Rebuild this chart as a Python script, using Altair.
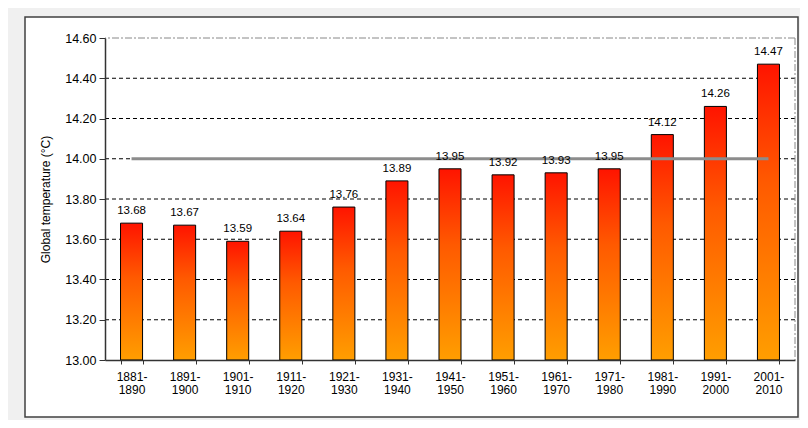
import altair as alt
import pandas as pd

periods = ["1881-1890", "1891-1900", "1901-1910", "1911-1920", "1921-1930",
           "1931-1940", "1941-1950", "1951-1960", "1961-1970", "1971-1980",
           "1981-1990", "1991-2000", "2001-2010"]
temps = [13.68, 13.67, 13.59, 13.64, 13.76, 13.89, 13.95, 13.92, 13.93, 13.95,
         14.12, 14.26, 14.47]
baseline = 14.00
y_ticks = [13.00, 13.20, 13.40, 13.60, 13.80, 14.00, 14.20, 14.40, 14.60]
grid_vals = [13.20, 13.40, 13.60, 13.80, 14.00, 14.20, 14.40]

W, H = 690, 322
FONT = "Liberation Sans"

df = pd.DataFrame({"period": periods, "temp": temps, "base": [baseline] * len(periods)})

xscale = alt.Scale(domain=periods, paddingInner=0.585, paddingOuter=0.2925)
yscale = alt.Scale(domain=[13.0, 14.6], zero=False, nice=False)

box = alt.Chart(alt.Data(values=[{"a": 1}])).mark_rect(
    fill="white", stroke="#404040", strokeWidth=1.5
).encode(
    x=alt.value(-80), x2=alt.value(W + 3), y=alt.value(-21), y2=alt.value(H + 57)
)

grid = alt.Chart(pd.DataFrame({"g": grid_vals})).mark_rule(
    color="black", strokeDash=[4, 3], strokeWidth=1
).encode(y=alt.Y("g:Q", scale=yscale))

top = alt.Chart(pd.DataFrame({"g": [14.6]})).mark_rule(
    color="#888888", strokeDash=[7, 2, 2, 2], strokeWidth=1
).encode(y=alt.Y("g:Q", scale=yscale))

right = alt.Chart(alt.Data(values=[{"a": 1}])).mark_rule(
    color="#888888", strokeDash=[7, 2, 2, 2], strokeWidth=1
).encode(x=alt.value(W), y=alt.value(0), y2=alt.value(H))

xaxis = alt.Axis(
    title=None, labelAngle=0, tickBand="extent", tickSize=4, tickColor="#333333",
    domainColor="#333333", domainWidth=1.5, labelFontSize=12, labelColor="black",
    labelFont=FONT, labelPadding=7, labelLineHeight=13, zindex=1,
    labelExpr="[slice(datum.label,0,5), slice(datum.label,5)]", grid=False
)
yaxis = alt.Axis(
    title="Global temperature (°C)", values=y_ticks, format=".2f", tickSize=6,
    tickColor="#333333", domainColor="#333333", domainWidth=1.5, labelFontSize=12.5,
    labelColor="black", labelFont=FONT, labelPadding=3, titleFont=FONT,
    titleFontSize=12, titleFontWeight="normal", titleColor="black",
    titlePadding=12, zindex=1, grid=False
)

bars = alt.Chart(df).mark_bar(
    fill=alt.Gradient(
        gradient="linear",
        stops=[alt.GradientStop(color="#ff1400", offset=0),
               alt.GradientStop(color="#ff5a00", offset=0.4),
               alt.GradientStop(color="#ff9e00", offset=1)],
        x1=0, x2=0, y1=0, y2=1,
    ),
    stroke="black", strokeWidth=1
).encode(
    x=alt.X("period:N", scale=xscale, axis=xaxis, sort=periods),
    y=alt.Y("temp:Q", scale=yscale, axis=yaxis),
    y2=alt.datum(13.0),
)

labels = alt.Chart(df).mark_text(
    dy=-9, baseline="alphabetic", fontSize=11.5, font=FONT, color="black"
).encode(
    x=alt.X("period:N", scale=xscale, sort=periods),
    y=alt.Y("temp:Q", scale=yscale),
    text=alt.Text("temp:Q", format=".2f"),
)

line = alt.Chart(df).mark_line(color="#8c8c8c", strokeWidth=3).encode(
    x=alt.X("period:N", scale=xscale, sort=periods),
    y=alt.Y("base:Q", scale=yscale),
)

chart = alt.layer(box, grid, top, right, bars, line, labels).properties(
    width=W, height=H,
    autosize=alt.AutoSizeParams(type="none"),
    padding={"left": 97, "top": 30, "right": 5, "bottom": 60},
    background="#f0f0f0",
).configure_view(stroke=None).configure(font=FONT)

chart.save("out.html", embed_options={"renderer": "svg", "actions": False})
